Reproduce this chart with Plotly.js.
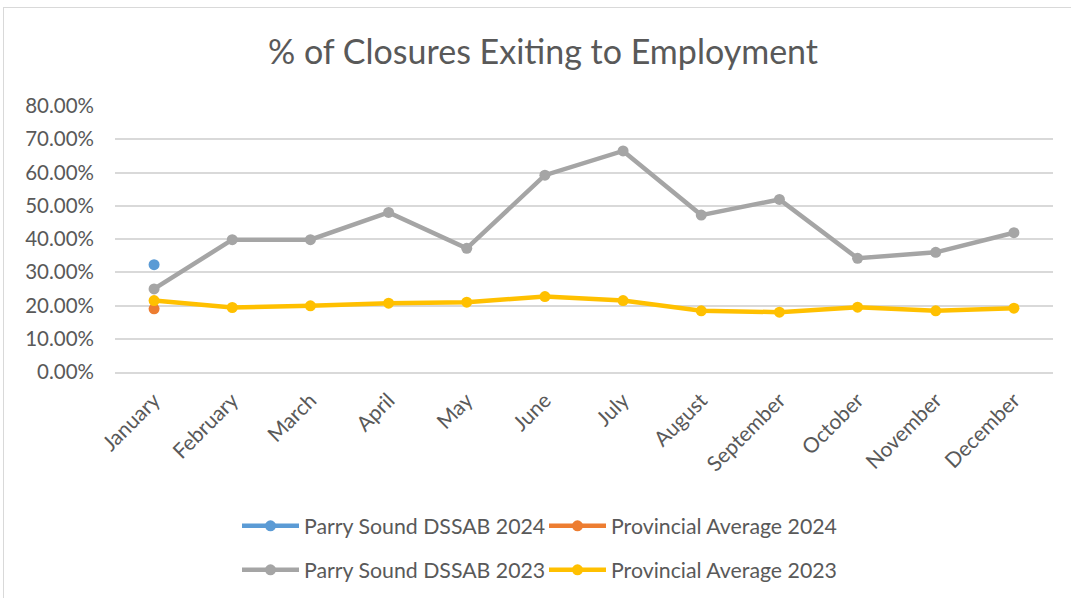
<!DOCTYPE html>
<html>
<head>
<meta charset="utf-8">
<script src="https://cdn.plot.ly/plotly-3.0.1.min.js"></script>
<style>
html,body{margin:0;padding:0;background:#fff;overflow:hidden;}
#frame{position:absolute;left:3px;top:7px;width:1100px;height:620px;border-left:1.5px solid #d9d9d9;border-top:1.5px solid #d9d9d9;}
#chart{position:absolute;left:0;top:0;width:1071px;height:598px;}
</style>
</head>
<body>
<div id="frame"></div>
<div id="chart"></div>
<script>
const months = ["January","February","March","April","May","June","July","August","September","October","November","December"];
const parrySound2024 = [0.323];
const provincial2024 = [0.190];
const parrySound2023 = [0.250,0.398,0.398,0.480,0.372,0.592,0.665,0.472,0.519,0.342,0.360,0.419];
const provincial2023 = [0.215,0.194,0.199,0.207,0.210,0.227,0.215,0.184,0.180,0.195,0.184,0.192];

const FONT = "Lato, 'Open Sans', sans-serif";
const TXT = "#595959";

function tr(name, y, color, legend){
  return {
    type:"scatter", mode:"lines+markers", name:name,
    x: months.slice(0, y.length), y:y,
    line:{color:color, width:4.5},
    marker:{color:color, size:11},
    legend:legend,
    hoverinfo:"x+y"
  };
}

const data = [
  tr("Parry Sound DSSAB 2024", parrySound2024, "#5B9BD5", "legend"),
  tr("Provincial Average 2024", provincial2024, "#ED7D31", "legend"),
  tr("Parry Sound DSSAB 2023", parrySound2023, "#A5A5A5", "legend2"),
  tr("Provincial Average 2023", provincial2023, "#FFC000", "legend2")
];

const legendBase = {
  orientation:"h", xref:"container", yref:"container",
  xanchor:"left", yanchor:"middle",
  font:{family:FONT, size:21.3, color:TXT},
  entrywidth:235, entrywidthmode:"pixels",
  bgcolor:"rgba(0,0,0,0)", traceorder:"normal",
  itemwidth:57
};

const layout = {
  width:1071, height:598,
  paper_bgcolor:"rgba(0,0,0,0)", plot_bgcolor:"rgba(0,0,0,0)",
  margin:{l:115, r:18, t:105.7, b:225.7, pad:0},
  title:{text:"% of Closures Exiting to Employment", x:543/1071, xanchor:"center", y:1-52/598, yanchor:"middle", yref:"container", xref:"container",
    font:{family:FONT, size:34, color:TXT}},
  xaxis:{
    type:"category", categoryarray:months, range:[-0.5, 11.5],
    showgrid:false, zeroline:false, showline:true, linecolor:"#d9d9d9", linewidth:1.5,
    ticks:"", tickangle:-45, ticklabelstandoff:6, tickfont:{family:FONT, size:21, color:TXT}, fixedrange:true
  },
  yaxis:{
    range:[0, 0.8002], dtick:0.1, tick0:0, tickformat:".2%",
    showgrid:true, gridcolor:"#d9d9d9", gridwidth:1.5, zeroline:false, showline:false,
    ticks:"", ticklabelstandoff:20, tickfont:{family:FONT, size:20.5, color:TXT}, fixedrange:true
  },
  showlegend:true,
  legend:Object.assign({}, legendBase, {x:237/1071, y:1-526/598}),
  legend2:Object.assign({}, legendBase, {x:237/1071, y:1-570/598}),
  hovermode:"closest"
};

Plotly.newPlot("chart", data, layout, {displayModeBar:false, staticPlot:false});
</script>
</body>
</html>
